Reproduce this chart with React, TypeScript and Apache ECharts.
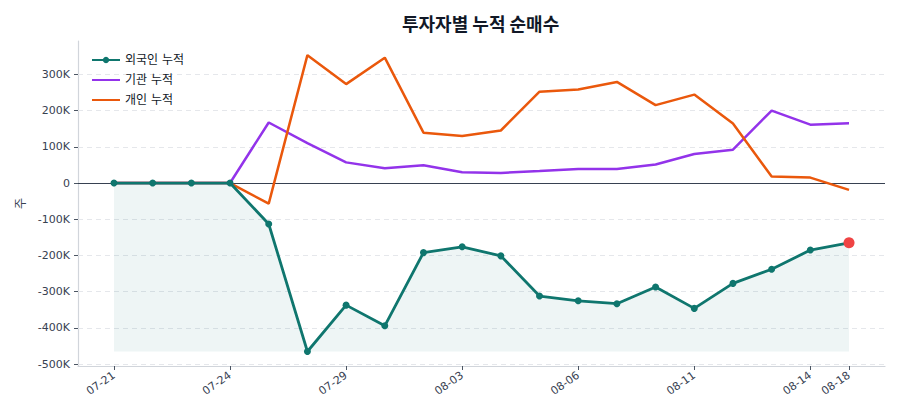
import { useEffect, useRef } from 'react';
import * as echarts from 'echarts';

// trading days (index axis)
const dates = [
  '07-21', '07-22', '07-23', '07-24', '07-25', '07-28', '07-29', '07-30', '07-31', '08-03',
  '08-04', '08-05', '08-06', '08-07', '08-08', '08-11', '08-12', '08-13', '08-14', '08-18',
];
const tickIdx = [0, 3, 6, 9, 12, 15, 18, 19];

const foreign = [
  0, 0, 0, 0, -113000, -465000, -337000, -394000, -192000, -176000,
  -201000, -312000, -325000, -333000, -287000, -346000, -277000, -238000, -185000, -165000,
];
const institution = [
  0, 0, 0, 0, 167000, 110000, 57000, 41000, 49000, 30000,
  28000, 33000, 39000, 39000, 51000, 80000, 92000, 200000, 161000, 165000,
];
const individual = [
  0, 0, 0, 0, -57000, 353000, 273000, 346000, 139000, 130000,
  145000, 252000, 258000, 279000, 215000, 244000, 164000, 18000, 15000, -19000,
];
const yTicks = [-500000, -400000, -300000, -200000, -100000, 0, 100000, 200000, 300000];

const FONT = "'DejaVu Sans', 'Noto Sans CJK KR', sans-serif";
const TEAL = '#0f766e';
const PURPLE = '#9333ea';
const ORANGE = '#ea580c';
const LABEL = '#374151';

export default function App() {
  const ref = useRef<HTMLDivElement | null>(null);

  useEffect(() => {
    document.body.style.margin = '0';
    if (!ref.current) return;
    const chart = echarts.init(ref.current, undefined, { renderer: 'svg' });
    const last = foreign.length - 1;
    const fillBase = Math.min(...foreign);

    chart.setOption({
      animation: false,
      title: {
        text: '투자자별 누적 순매수',
        left: 397,
        top: 9,
        textStyle: { fontFamily: "'Noto Sans CJK KR', sans-serif", fontSize: 18, fontWeight: 'bold', color: '#111827' },
      },
      legend: {
        orient: 'vertical',
        left: 86,
        top: 49,
        itemWidth: 28,
        itemHeight: 8,
        itemGap: 8,
        data: [
          { name: '외국인 누적' },
          { name: '기관 누적', itemStyle: { opacity: 0 } },
          { name: '개인 누적', itemStyle: { opacity: 0 } },
        ],
        textStyle: { fontFamily: FONT, fontSize: 12, color: '#111827' },
      },
      grid: { left: 78, right: 15, top: 41, bottom: 54 },
      xAxis: {
        type: 'value',
        min: -0.93,
        max: 19.93,
        axisLine: { onZero: false, lineStyle: { color: '#d1d5db', width: 1.2 } },
        axisTick: { customValues: tickIdx, length: 4, lineStyle: { color: '#4b5563' } },
        axisLabel: {
          customValues: tickIdx,
          rotate: 35,
          margin: 8,
          color: LABEL,
          fontSize: 11,
          fontFamily: FONT,
          formatter: (v: number) => dates[Math.round(v)] ?? '',
        },
        splitLine: { show: false },
      },
      yAxis: {
        type: 'value',
        min: -505000,
        max: 392000,
        name: '주',
        nameLocation: 'middle',
        nameGap: 47,
        nameRotate: 90,
        nameTextStyle: { fontFamily: FONT, fontSize: 12, color: LABEL },
        axisLine: { show: true, onZero: false, lineStyle: { color: '#d1d5db', width: 1.2 } },
        axisTick: { show: true, customValues: yTicks, length: 4, lineStyle: { color: '#4b5563' } },
        axisLabel: {
          customValues: yTicks,
          margin: 8,
          color: LABEL,
          fontSize: 11,
          fontFamily: FONT,
          formatter: (v: number) => (v === 0 ? '0' : `${Math.round(v / 1000)}K`),
        },
        splitLine: { show: false },
      },
      series: [
        {
          name: '기관 누적',
          type: 'line',
          z: 2,
          showSymbol: false,
          symbol: 'none',
          data: institution.map((v, i) => [i, v]),
          lineStyle: { color: PURPLE, width: 2.5 },
          itemStyle: { color: PURPLE },
          markLine: {
            silent: true,
            z: 1,
            symbol: 'none',
            label: { show: false },
            data: [
              ...yTicks.filter(t => t !== 0).map(t => ({
                yAxis: t,
                lineStyle: { type: [5, 4], color: '#e5e7eb', width: 1 },
              })),
              { yAxis: 0, lineStyle: { type: 'solid', color: '#374151', width: 1.2 } },
            ],
          },
        },
        {
          name: '개인 누적',
          type: 'line',
          z: 3,
          showSymbol: false,
          symbol: 'none',
          data: individual.map((v, i) => [i, v]),
          lineStyle: { color: ORANGE, width: 2.5 },
          itemStyle: { color: ORANGE },
        },
        {
          name: '외국인 누적',
          type: 'line',
          z: 4,
          symbol: 'circle',
          symbolSize: 7,
          data: foreign.map((v, i) =>
            i === last
              ? { value: [i, v], symbolSize: 11, itemStyle: { color: '#ef4444' } }
              : [i, v]
          ),
          lineStyle: { color: TEAL, width: 2.8 },
          itemStyle: { color: TEAL },
          areaStyle: { origin: fillBase, color: 'rgba(15,118,110,0.1)' },
        },
      ],
    });

    return () => chart.dispose();
  }, []);

  return <div ref={ref} style={{ width: 900, height: 420 }} />;
}
